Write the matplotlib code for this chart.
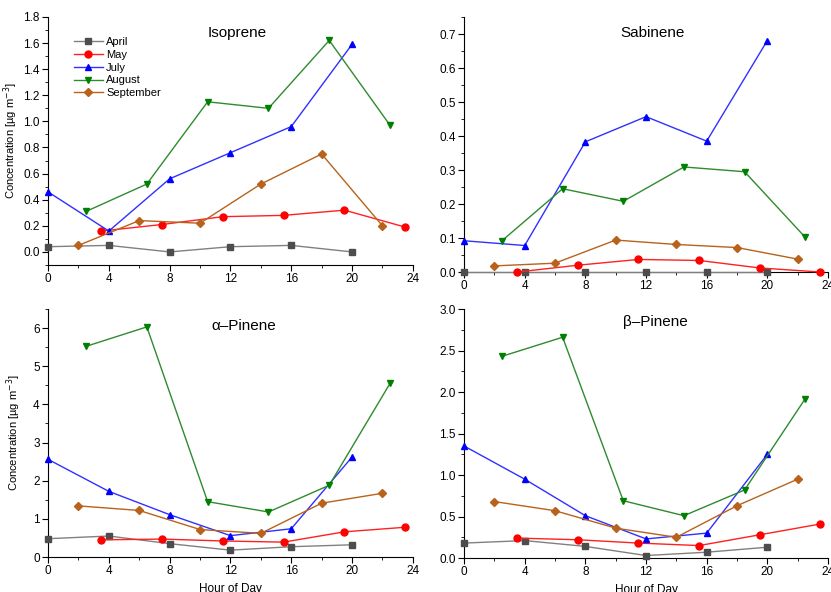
import numpy as np
import matplotlib
matplotlib.use('Agg')
import matplotlib.pyplot as plt
from matplotlib.ticker import MultipleLocator, FormatStrFormatter

plt.rcParams['font.family'] = ['Liberation Sans', 'DejaVu Sans']

# sampling hours for each month
hours_apr = [0, 4, 8, 12, 16, 20]
hours_may = [3.5, 7.5, 11.5, 15.5, 19.5, 23.5]
hours_jul = [0, 4, 8, 12, 16, 20]
hours_aug = [2.5, 6.5, 10.5, 14.5, 18.5, 22.5]
hours_sep = [2, 6, 10, 14, 18, 22]

months = ['April', 'May', 'July', 'August', 'September']

# concentrations (ug m-3)
isoprene_apr = [0.04, 0.05, 0.0, 0.04, 0.05, 0.0]
isoprene_may = [0.16, 0.21, 0.27, 0.28, 0.32, 0.19]
isoprene_jul = [0.46, 0.16, 0.56, 0.76, 0.96, 1.59]
isoprene_aug = [0.31, 0.52, 1.15, 1.10, 1.62, 0.97]
isoprene_sep = [0.05, 0.24, 0.22, 0.52, 0.75, 0.20]

sabinene_apr = [0.0, 0.0, 0.0, 0.0, 0.0, 0.0]
sabinene_may = [0.0, 0.02, 0.037, 0.034, 0.012, 0.0]
sabinene_jul = [0.092, 0.078, 0.383, 0.457, 0.385, 0.681]
sabinene_aug = [0.092, 0.245, 0.208, 0.309, 0.295, 0.102]
sabinene_sep = [0.018, 0.026, 0.094, 0.081, 0.072, 0.038]

apinene_apr = [0.48, 0.55, 0.35, 0.18, 0.27, 0.32]
apinene_may = [0.45, 0.47, 0.42, 0.39, 0.66, 0.78]
apinene_jul = [2.56, 1.72, 1.11, 0.56, 0.74, 2.62]
apinene_aug = [5.52, 6.03, 1.45, 1.18, 1.88, 4.55]
apinene_sep = [1.34, 1.22, 0.72, 0.62, 1.41, 1.67]

bpinene_apr = [0.18, 0.21, 0.14, 0.03, 0.07, 0.13]
bpinene_may = [0.24, 0.22, 0.18, 0.15, 0.28, 0.41]
bpinene_jul = [1.35, 0.95, 0.51, 0.23, 0.30, 1.25]
bpinene_aug = [2.43, 2.66, 0.69, 0.51, 0.82, 1.92]
bpinene_sep = [0.68, 0.57, 0.36, 0.25, 0.63, 0.95]

hours = [hours_apr, hours_may, hours_jul, hours_aug, hours_sep]
colors = ['#4d4d4d', '#ff0000', '#0000ff', '#008000', '#b8621b']
linecols = ['#808080', '#ff2020', '#3030ff', '#2e8b2e', '#b8621b']
markers = ['s', 'o', '^', 'v', 'D']
msizes = [4.5, 5, 5, 5, 4.5]


def draw_panel(ax, data, title, tpos, ylim, major, minor, fmt):
    for i in range(5):
        ax.plot(hours[i], data[i], color=linecols[i], lw=1,
                marker=markers[i], ms=msizes[i], mfc=colors[i], mec=colors[i],
                label=months[i], clip_on=False, zorder=3)
    ax.set_xlim(0, 24)
    ax.set_ylim(*ylim)
    ax.xaxis.set_major_locator(MultipleLocator(4))
    ax.xaxis.set_minor_locator(MultipleLocator(2))
    ax.yaxis.set_major_locator(MultipleLocator(major))
    ax.yaxis.set_minor_locator(MultipleLocator(minor))
    ax.yaxis.set_major_formatter(FormatStrFormatter(fmt))
    for s in ['top', 'right']:
        ax.spines[s].set_visible(False)
    ax.tick_params(which='major', direction='out', length=4, labelsize=8.5, pad=2)
    ax.tick_params(which='minor', direction='out', length=2.5)
    ax.text(tpos[0], tpos[1], title, transform=ax.transAxes,
            ha='center', va='center', fontsize=11)


fig = plt.figure(figsize=(8.31, 5.92), dpi=100)

ax1 = fig.add_axes([0.0578, 0.5524, 0.439, 0.419])
ax2 = fig.add_axes([0.5584, 0.5405, 0.438, 0.4307])
ax3 = fig.add_axes([0.0578, 0.0591, 0.439, 0.419])
ax4 = fig.add_axes([0.5584, 0.0574, 0.438, 0.4206])

draw_panel(ax1, [isoprene_apr, isoprene_may, isoprene_jul, isoprene_aug, isoprene_sep],
           'Isoprene', (0.518, 0.935), (-0.1, 1.8), 0.2, 0.1, '%.1f')
draw_panel(ax2, [sabinene_apr, sabinene_may, sabinene_jul, sabinene_aug, sabinene_sep],
           'Sabinene', (0.517, 0.937), (0, 0.75), 0.1, 0.05, '%.1f')
draw_panel(ax3, [apinene_apr, apinene_may, apinene_jul, apinene_aug, apinene_sep],
           '\u03b1\u2013Pinene', (0.537, 0.93), (0, 6.5), 1, 0.5, '%d')
draw_panel(ax4, [bpinene_apr, bpinene_may, bpinene_jul, bpinene_aug, bpinene_sep],
           '\u03b2\u2013Pinene', (0.527, 0.948), (0, 3.0), 0.5, 0.25, '%.1f')

ylab = 'Concentration [\u00b5g m$^{-3}$]'
ax1.set_ylabel(ylab, fontsize=8, labelpad=2)
ax3.set_ylabel(ylab, fontsize=8, labelpad=7)
ax3.set_xlabel('Hour of Day', fontsize=8.5, labelpad=4)
ax4.set_xlabel('Hour of Day', fontsize=8.5, labelpad=4)

ax1.legend(loc='upper left', bbox_to_anchor=(0.05, 0.95), frameon=False,
           fontsize=8, handlelength=2.6, labelspacing=0.25, borderpad=0.2,
           handletextpad=0.3)

fig.savefig('out.png', dpi=100)
